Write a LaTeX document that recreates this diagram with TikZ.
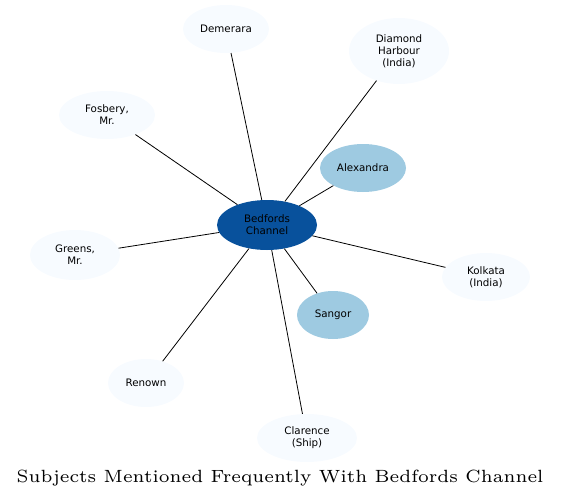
\documentclass[tikz,border=0pt]{standalone}
\usepackage{fontspec}
\newfontfamily\labelfont{DejaVu Sans}
\newfontfamily\titlefont{lmroman6-regular.otf}
\usepackage{xcolor}
\usepackage{tikz}
\definecolor{hubblue}{HTML}{08519C}
\definecolor{midblue}{HTML}{9ECAE1}
\definecolor{paleblue}{HTML}{F7FBFF}
\tikzstyle{topic} = [ellipse, inner sep=0pt, align=center,
    font=\labelfont\fontsize{10.3}{12}\selectfont, minimum height=48]
\tikzstyle{hub} = [topic, fill=hubblue, minimum width=100, minimum height=50]
\tikzstyle{near} = [topic, fill=midblue]
\tikzstyle{far} = [topic, fill=paleblue]
\tikzstyle{link} = [draw=black, line width=0.8pt]
\usetikzlibrary{shapes.geometric}

\begin{document}
\begin{tikzpicture}[x=1pt,y=-1pt]
    \useasboundingbox (0,0) rectangle (561,500);

    \node[hub] (bedfords) at (267,225) {Bedfords\\Channel};

    \node[far, minimum width=86] (demerara) at (226,29) {Demerara};
    \node[far, minimum width=100, minimum height=66] (diamond) at (399,51) {Diamond\\Harbour\\(India)};
    \node[far, minimum width=96] (fosbery) at (107,115) {Fosbery,\\Mr.};
    \node[near, minimum width=86] (alexandra) at (363,168) {Alexandra};
    \node[far, minimum width=90, minimum height=50] (greens) at (75,255) {Greens,\\Mr.};
    \node[far, minimum width=88] (kolkata) at (486,277) {Kolkata\\(India)};
    \node[near, minimum width=72] (sangor) at (333,315) {Sangor};
    \node[far, minimum width=76] (renown) at (146,383) {Renown};
    \node[far, minimum width=100] (clarence) at (307,438) {Clarence\\(Ship)};

    \foreach \t in {demerara,diamond,fosbery,alexandra,greens,kolkata,sangor,renown,clarence}
        \draw[link] (bedfords) -- (\t);

    \node[font=\titlefont\fontsize{17.7}{20}\selectfont] (title) at (280,478) {Subjects Mentioned Frequently With Bedfords Channel};
\end{tikzpicture}
\end{document}
